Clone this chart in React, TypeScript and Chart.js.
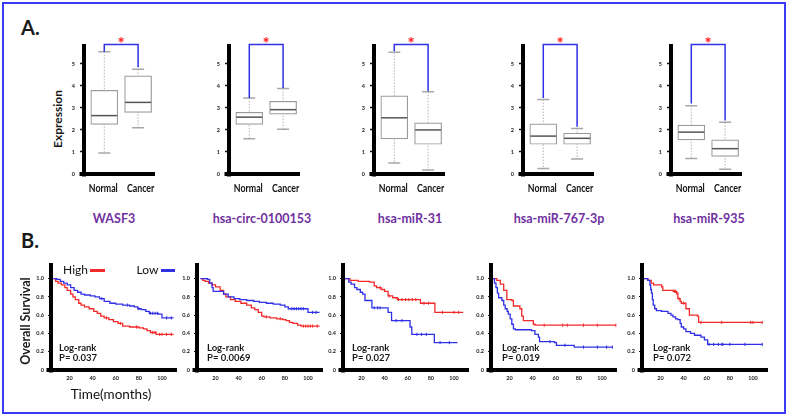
import React, { useEffect, useRef } from 'react';
import { Chart, registerables } from 'chart.js';
Chart.register(...registerables);

// ---------------- DATA ----------------
const groups = ['Normal', 'Cancer'];
const genes = ['WASF3', 'hsa-circ-0100153', 'hsa-miR-31', 'hsa-miR-767-3p', 'hsa-miR-935'];
const boxYTicks = [0, 1, 2, 3, 4, 5];
const kmXTicks = [20, 40, 60, 80, 100];
const kmYTicks = [0, 0.2, 0.4, 0.6, 0.8, 1.0];
const pValues = ['P= 0.037', 'P= 0.0069', 'P= 0.027', 'P= 0.019', 'P= 0.072'];

// box stats: [lower whisker, Q1, median, Q3, upper whisker]
const wasf3Normal = [0.95, 2.25, 2.65, 3.8, 5.55];
const wasf3Cancer = [2.1, 2.8, 3.25, 4.45, 4.75];
const circNormal = [1.6, 2.25, 2.58, 2.8, 3.45];
const circCancer = [2.03, 2.72, 2.92, 3.3, 3.88];
const mir31Normal = [0.5, 1.6, 2.55, 3.55, 5.52];
const mir31Cancer = [0.18, 1.35, 2.0, 2.32, 3.73];
const mir767Normal = [0.25, 1.35, 1.72, 2.28, 3.38];
const mir767Cancer = [0.68, 1.35, 1.62, 1.85, 2.07];
const mir935Normal = [0.7, 1.55, 1.9, 2.22, 3.1];
const mir935Cancer = [0.22, 0.8, 1.15, 1.55, 2.35];
const boxNormal = [wasf3Normal, circNormal, mir31Normal, mir767Normal, mir935Normal];
const boxCancer = [wasf3Cancer, circCancer, mir31Cancer, mir767Cancer, mir935Cancer];
const bracketLevel = 5.88;
// where the significance bracket legs end [Normal, Cancer]
const bracketLegs = [[5.55, 4.85], [3.45, 3.9], [5.57, 3.75], [3.45, 2.15], [3.2, 2.43]];

// Kaplan-Meier curves (time in months, survival)
const wasf3HighTime = [6, 8, 10, 13, 16, 18, 21, 23, 25, 28, 30, 33, 37, 41, 44, 47, 50, 54, 58, 62, 66, 72, 80, 84, 87, 90, 95, 110];
const wasf3HighSurv = [1.0, 0.97, 0.95, 0.93, 0.9, 0.87, 0.83, 0.8, 0.77, 0.73, 0.71, 0.69, 0.67, 0.64, 0.62, 0.59, 0.57, 0.55, 0.53, 0.51, 0.48, 0.47, 0.46, 0.45, 0.43, 0.41, 0.39, 0.39];
const wasf3LowTime = [6, 9, 12, 15, 18, 21, 24, 27, 30, 33, 38, 42, 46, 50, 55, 60, 66, 72, 76, 79, 82, 86, 89, 97, 100, 110];
const wasf3LowSurv = [1.0, 0.99, 0.97, 0.95, 0.93, 0.9, 0.87, 0.85, 0.83, 0.82, 0.81, 0.8, 0.78, 0.75, 0.73, 0.72, 0.71, 0.7, 0.69, 0.67, 0.66, 0.64, 0.62, 0.61, 0.57, 0.57];
const wasf3HighCensor = [52, 64, 78, 92, 94, 98, 100, 104, 108];
const wasf3LowCensor = [48, 70, 80, 90, 92, 94, 96, 104, 108];

const circHighTime = [7, 9, 11, 14, 17, 20, 24, 27, 29, 33, 37, 42, 47, 51, 54, 57, 60, 62, 67, 73, 78, 81, 84, 87, 91, 94, 110];
const circHighSurv = [1.0, 0.98, 0.97, 0.95, 0.93, 0.91, 0.87, 0.83, 0.8, 0.77, 0.75, 0.73, 0.71, 0.68, 0.66, 0.63, 0.59, 0.58, 0.57, 0.56, 0.55, 0.54, 0.52, 0.51, 0.49, 0.48, 0.48];
const circLowTime = [7, 13, 15, 17, 18, 24, 27, 31, 36, 41, 47, 53, 58, 64, 70, 76, 80, 83, 99, 100, 110];
const circLowSurv = [1.0, 0.99, 0.95, 0.9, 0.86, 0.86, 0.83, 0.8, 0.78, 0.77, 0.76, 0.75, 0.74, 0.73, 0.72, 0.71, 0.69, 0.67, 0.67, 0.63, 0.63];
const circHighCensor = [64, 76, 96, 98, 100, 102, 104, 108];
const circLowCensor = [86, 88, 90, 92, 94, 96, 104, 107];

const mir31HighTime = [4, 10, 17, 27, 31, 33, 37, 40, 43, 47, 51, 69, 71, 82, 83.5, 108];
const mir31HighSurv = [1.0, 0.98, 0.97, 0.96, 0.92, 0.9, 0.88, 0.86, 0.81, 0.79, 0.77, 0.77, 0.73, 0.73, 0.63, 0.63];
const mir31LowTime = [4, 9, 11, 14, 16, 19, 21, 23, 29, 39, 43, 46, 59, 62, 63.5, 82, 83, 103];
const mir31LowSurv = [1.0, 0.96, 0.94, 0.9, 0.88, 0.85, 0.83, 0.76, 0.68, 0.68, 0.63, 0.54, 0.54, 0.47, 0.39, 0.39, 0.3, 0.3];
const mir31HighCensor = [36, 44, 52, 55, 58, 61, 64, 67, 74, 78, 90, 100, 104];
const mir31LowCensor = [31, 34, 36, 50, 55, 68, 72, 76, 88, 96];

const mir767HighTime = [5, 9, 12, 15, 17.7, 22, 23.4, 29, 30.6, 32, 39, 40.6, 42, 112];
const mir767HighSurv = [1.0, 0.98, 0.94, 0.87, 0.77, 0.76, 0.7, 0.67, 0.59, 0.54, 0.54, 0.5, 0.49, 0.49];
const mir767LowTime = [5, 7, 8.3, 9.5, 10.6, 13.4, 15, 16.3, 18, 19, 20.6, 22, 23.4, 25, 39, 42, 45, 46, 59, 60.6, 75, 76, 109];
const mir767LowSurv = [1.0, 0.95, 0.9, 0.84, 0.79, 0.76, 0.71, 0.67, 0.64, 0.61, 0.56, 0.5, 0.45, 0.44, 0.43, 0.39, 0.36, 0.31, 0.3, 0.27, 0.27, 0.25, 0.25];
const mir767HighCensor = [50, 66, 70, 84, 96, 112];
const mir767LowCensor = [55, 68, 84, 96, 104, 109];

const mir935HighTime = [5, 9, 12, 14, 21, 22, 31, 34, 35, 37, 38, 42, 45, 52, 53, 108];
const mir935HighSurv = [1.0, 0.98, 0.95, 0.93, 0.91, 0.87, 0.86, 0.84, 0.78, 0.75, 0.73, 0.67, 0.6, 0.59, 0.52, 0.52];
const mir935LowTime = [5, 9, 10.8, 11.5, 12.2, 13, 13.7, 15, 16.5, 20.8, 26.5, 29, 30.8, 33, 35, 37, 38, 40, 42, 46, 49.4, 55, 58, 60.8, 108];
const mir935LowSurv = [1.0, 0.98, 0.93, 0.88, 0.84, 0.77, 0.71, 0.67, 0.65, 0.64, 0.62, 0.6, 0.58, 0.56, 0.55, 0.51, 0.47, 0.45, 0.42, 0.4, 0.38, 0.36, 0.33, 0.28, 0.28];
const mir935HighCensor = [32, 33, 34, 36, 40, 55, 73, 98, 100, 108];
const mir935LowCensor = [62, 66, 70, 73, 74, 80, 93, 108];

const kmHigh = [
  [wasf3HighTime, wasf3HighSurv, wasf3HighCensor],
  [circHighTime, circHighSurv, circHighCensor],
  [mir31HighTime, mir31HighSurv, mir31HighCensor],
  [mir767HighTime, mir767HighSurv, mir767HighCensor],
  [mir935HighTime, mir935HighSurv, mir935HighCensor],
];
const kmLow = [
  [wasf3LowTime, wasf3LowSurv, wasf3LowCensor],
  [circLowTime, circLowSurv, circLowCensor],
  [mir31LowTime, mir31LowSurv, mir31LowCensor],
  [mir767LowTime, mir767LowSurv, mir767LowCensor],
  [mir935LowTime, mir935LowSurv, mir935LowCensor],
];

// ---------------- LAYOUT ----------------
const RED = '#f22a2a';
const BLUE = '#3030e6';
const FONT = 'Lato, "Open Sans", sans-serif';
const boxLefts = [84, 229, 374, 523, 671];
const BOX = { w: 71, top: 44, bottom: 174, yW: 26, padT: 16, padR: 10, xH: 24 };
const kmLefts = [51, 197, 343, 491, 642];
const KM = { w: 127, top: 263, bottom: 370, yW: 24, padT: 8, padR: 4, xH: 18 };

const thickAxes = {
  id: 'thickAxes',
  afterDraw(chart: any) {
    const { ctx, chartArea: a } = chart;
    ctx.save();
    ctx.strokeStyle = '#000';
    ctx.lineWidth = 4;
    ctx.lineCap = 'butt';
    ctx.beginPath();
    ctx.moveTo(a.left, a.top);
    ctx.lineTo(a.left, a.bottom + 2.5);
    ctx.moveTo(a.left - 4.5, a.bottom);
    ctx.lineTo(a.right, a.bottom);
    ctx.stroke();
    ctx.restore();
  },
};

const boxDecor = {
  id: 'boxDecor',
  beforeDatasetsDraw(chart: any, _a: any, opts: any) {
    const { ctx, scales: { x, y } } = chart;
    ctx.save();
    (opts.boxes as number[][]).forEach((b, i) => {
      const cx = x.getPixelForValue(i + 1);
      const [lo, , , , hi] = b;
      ctx.strokeStyle = '#b4b4b4';
      ctx.lineWidth = 1;
      ctx.setLineDash([1.5, 1.5]);
      ctx.beginPath();
      ctx.moveTo(cx, y.getPixelForValue(hi));
      ctx.lineTo(cx, y.getPixelForValue(lo));
      ctx.stroke();
      ctx.setLineDash([]);
      ctx.strokeStyle = '#a8a8a8';
      ctx.lineWidth = 1.5;
      ctx.beginPath();
      ctx.moveTo(cx - 6, y.getPixelForValue(hi));
      ctx.lineTo(cx + 6, y.getPixelForValue(hi));
      ctx.moveTo(cx - 6, y.getPixelForValue(lo));
      ctx.lineTo(cx + 6, y.getPixelForValue(lo));
      ctx.stroke();
    });
    ctx.restore();
  },
  afterDatasetsDraw(chart: any, _a: any, opts: any) {
    const { ctx, scales: { x, y }, chartArea } = chart;
    ctx.save();
    (opts.boxes as number[][]).forEach((b, i) => {
      const cx = x.getPixelForValue(i + 1);
      const my = y.getPixelForValue(b[2]);
      ctx.strokeStyle = '#555';
      ctx.lineWidth = 1.5;
      ctx.beginPath();
      ctx.moveTo(cx - 13, my);
      ctx.lineTo(cx + 13, my);
      ctx.stroke();
    });
    const x1 = x.getPixelForValue(1);
    const x2 = x.getPixelForValue(2);
    const by = y.getPixelForValue(opts.level);
    ctx.strokeStyle = BLUE;
    ctx.lineWidth = 1.5;
    ctx.beginPath();
    ctx.moveTo(x1, y.getPixelForValue(opts.legs[0]));
    ctx.lineTo(x1, by);
    ctx.lineTo(x2, by);
    ctx.lineTo(x2, y.getPixelForValue(opts.legs[1]));
    ctx.stroke();
    ctx.fillStyle = '#ff1a1a';
    ctx.font = `bold 17px ${FONT}`;
    ctx.textAlign = 'center';
    ctx.textBaseline = 'alphabetic';
    ctx.fillText('*', (x1 + x2) / 2, by + 6);
    // group labels (condensed bold)
    ctx.fillStyle = '#111';
    ctx.font = `bold 11px ${FONT}`;
    ctx.textBaseline = 'middle';
    groups.forEach((g, i) => {
      const cx = x.getPixelForValue(i + 1) + (i === 0 ? -1 : 2.5);
      ctx.save();
      ctx.translate(cx, chartArea.bottom + 14);
      ctx.scale(0.8, 1);
      ctx.fillText(g, 0, 0);
      ctx.restore();
    });
    ctx.restore();
  },
};

function BoxChart({ idx }: { idx: number }) {
  const ref = useRef<HTMLCanvasElement>(null);
  const W = BOX.yW + BOX.w + BOX.padR;
  const H = BOX.padT + (BOX.bottom - BOX.top) + BOX.xH;
  useEffect(() => {
    const n = boxNormal[idx];
    const c = boxCancer[idx];
    const chart = new Chart(ref.current as HTMLCanvasElement, {
      type: 'bar',
      data: {
        datasets: [
          {
            data: [
              { x: 1, y: [n[1], n[3]] },
              { x: 2, y: [c[1], c[3]] },
            ] as any,
            backgroundColor: '#ffffff',
            borderColor: '#9a9a9a',
            borderWidth: 1.2,
            borderSkipped: false,
            barThickness: 27,
          } as any,
        ],
      },
      options: {
        responsive: false,
        animation: false,
        events: [],
        layout: { padding: { top: BOX.padT, right: BOX.padR, left: 0, bottom: 0 } },
        plugins: {
          legend: { display: false },
          tooltip: { enabled: false },
          boxDecor: { boxes: [n, c], legs: bracketLegs[idx], level: bracketLevel },
        } as any,
        scales: {
          x: {
            type: 'linear',
            min: 0.4,
            max: 2.5,
            offset: false,
            afterBuildTicks: (s: any) => { s.ticks = [1, 2].map((v) => ({ value: v })); },
            afterFit: (s: any) => { s.height = BOX.xH; s.paddingLeft = 0; s.paddingRight = 0; },
            grid: { display: false, drawTicks: false },
            border: { display: false },
            ticks: { display: false },
          },
          y: {
            min: 0,
            max: 5.9,
            afterBuildTicks: (s: any) => { s.ticks = boxYTicks.map((v) => ({ value: v })); },
            afterFit: (s: any) => { s.width = BOX.yW; s.paddingTop = 0; s.paddingBottom = 0; },
            grid: { drawOnChartArea: false, tickLength: 4, tickWidth: 1.5, tickColor: '#111' },
            border: { display: false },
            ticks: { font: { family: FONT, size: 5.5, weight: 'bold' }, color: '#222', padding: 5 },
          },
        } as any,
      },
      plugins: [boxDecor, thickAxes],
    });
    return () => chart.destroy();
  }, [idx]);
  return (
    <canvas
      ref={ref}
      width={W}
      height={H}
      style={{ position: 'absolute', left: boxLefts[idx] - BOX.yW, top: BOX.top - BOX.padT, width: W, height: H }}
    />
  );
}

function survAt(t: number, ts: number[], ss: number[]) {
  let v = ss[0];
  for (let i = 0; i < ts.length; i++) if (ts[i] <= t) v = ss[i];
  return v;
}

function KMChart({ idx }: { idx: number }) {
  const ref = useRef<HTMLCanvasElement>(null);
  const W = KM.yW + KM.w + KM.padR;
  const H = KM.padT + (KM.bottom - KM.top) + KM.xH;
  useEffect(() => {
    const [hT, hS, hC] = kmHigh[idx];
    const [lT, lS, lC] = kmLow[idx];
    const line = (ts: number[], ss: number[], color: string) => ({
      type: 'line',
      data: ts.map((t, i) => ({ x: t, y: ss[i] })),
      stepped: 'before',
      borderColor: color,
      borderWidth: 1.3,
      pointRadius: 0,
      fill: false,
    });
    const cens = (cs: number[], ts: number[], ss: number[], color: string) => ({
      type: 'scatter',
      data: cs.map((t) => ({ x: t, y: survAt(t, ts, ss) })),
      pointStyle: 'line',
      rotation: 90,
      pointRadius: 1.6,
      borderColor: color,
      borderWidth: 1,
      showLine: false,
    });
    const chart = new Chart(ref.current as HTMLCanvasElement, {
      type: 'line',
      data: {
        datasets: [
          cens(lC, lT, lS, BLUE),
          cens(hC, hT, hS, RED),
          line(lT, lS, BLUE),
          line(hT, hS, RED),
        ] as any,
      },
      options: {
        responsive: false,
        animation: false,
        events: [],
        layout: { padding: { top: KM.padT, right: KM.padR, left: 0, bottom: 0 } },
        plugins: { legend: { display: false }, tooltip: { enabled: false } },
        scales: {
          x: {
            type: 'linear',
            min: 4,
            max: 113,
            afterBuildTicks: (s: any) => { s.ticks = kmXTicks.map((v) => ({ value: v })); },
            afterFit: (s: any) => { s.height = KM.xH; s.paddingLeft = 0; s.paddingRight = 0; },
            grid: { drawOnChartArea: false, tickLength: 2, tickWidth: 1, tickColor: '#111' },
            border: { display: false },
            ticks: { font: { family: FONT, size: 5.5, weight: 'bold' }, color: '#222', padding: 3, maxRotation: 0 },
          },
          y: {
            min: 0,
            max: 1.17,
            afterBuildTicks: (s: any) => { s.ticks = kmYTicks.map((v) => ({ value: v })); },
            afterFit: (s: any) => { s.width = KM.yW; s.paddingTop = 0; s.paddingBottom = 0; },
            grid: { drawOnChartArea: false, tickLength: 3, tickWidth: 1, tickColor: '#111' },
            border: { display: false },
            ticks: {
              callback: (v: any) => (v === 0 ? '0' : Number(v).toFixed(1)),
              font: { family: FONT, size: 5.5, weight: 'bold' },
              color: '#222',
              padding: 4,
            },
          },
        } as any,
      },
      plugins: [thickAxes],
    });
    return () => chart.destroy();
  }, [idx]);
  return (
    <canvas
      ref={ref}
      width={W}
      height={H}
      style={{ position: 'absolute', left: kmLefts[idx] - KM.yW, top: KM.top - KM.padT, width: W, height: H }}
    />
  );
}

function T(props: { x: number; y: number; size: number; children: any; weight?: number; color?: string; align?: 'center' | 'left'; rotate?: boolean }) {
  const { x, y, size, children, weight = 700, color = '#1a1a1a', align = 'center', rotate = false } = props;
  return (
    <div
      style={{
        position: 'absolute',
        left: x,
        top: y,
        transform: `translate(${align === 'center' ? '-50%' : '0'}, -50%)${rotate ? ' rotate(-90deg)' : ''}`,
        fontFamily: FONT,
        fontSize: size,
        fontWeight: weight,
        color,
        lineHeight: 1,
        whiteSpace: 'nowrap',
      }}
    >
      {children}
    </div>
  );
}

const geneCenters = [114, 262, 410, 559, 709];
const logRankLefts = [59, 207, 352, 502, 653];

export default function App() {
  return (
    <div style={{ position: 'absolute', left: 0, top: 0, width: 789, height: 420, background: '#fff', overflow: 'hidden' }}>
      <div style={{ position: 'absolute', left: 2, top: 2, width: 784, height: 412, boxSizing: 'border-box', border: '2px solid #3b3bf2' }} />
      <T x={21} y={27} size={20} align="left">A.</T>
      <T x={21} y={240} size={20} align="left">B.</T>
      <T x={58} y={119} size={12} rotate>Expression</T>
      {genes.map((g, i) => (
        <T key={g} x={geneCenters[i]} y={219} size={12.5} color="#7030a0">{g}</T>
      ))}
      {genes.map((g, i) => <BoxChart key={'b' + g} idx={i} />)}
      {genes.map((g, i) => <KMChart key={'k' + g} idx={i} />)}
      <T x={26} y={321} size={12.5} rotate>Overall Survival</T>
      <T x={111} y={395} size={13.5} weight={400} color="#111">Time(months)</T>
      <T x={75.5} y={270} size={12} weight={400} color="#111">High</T>
      <div style={{ position: 'absolute', left: 90, top: 268.5, width: 15, height: 3, background: RED }} />
      <T x={147.5} y={270} size={12} weight={400} color="#111">Low</T>
      <div style={{ position: 'absolute', left: 161, top: 268.5, width: 14, height: 3, background: BLUE }} />
      {pValues.map((p, i) => (
        <React.Fragment key={p}>
          <T x={logRankLefts[i]} y={347.5} size={9.5} align="left">Log-rank</T>
          <T x={logRankLefts[i]} y={358} size={9.5} align="left">{p}</T>
        </React.Fragment>
      ))}
    </div>
  );
}
